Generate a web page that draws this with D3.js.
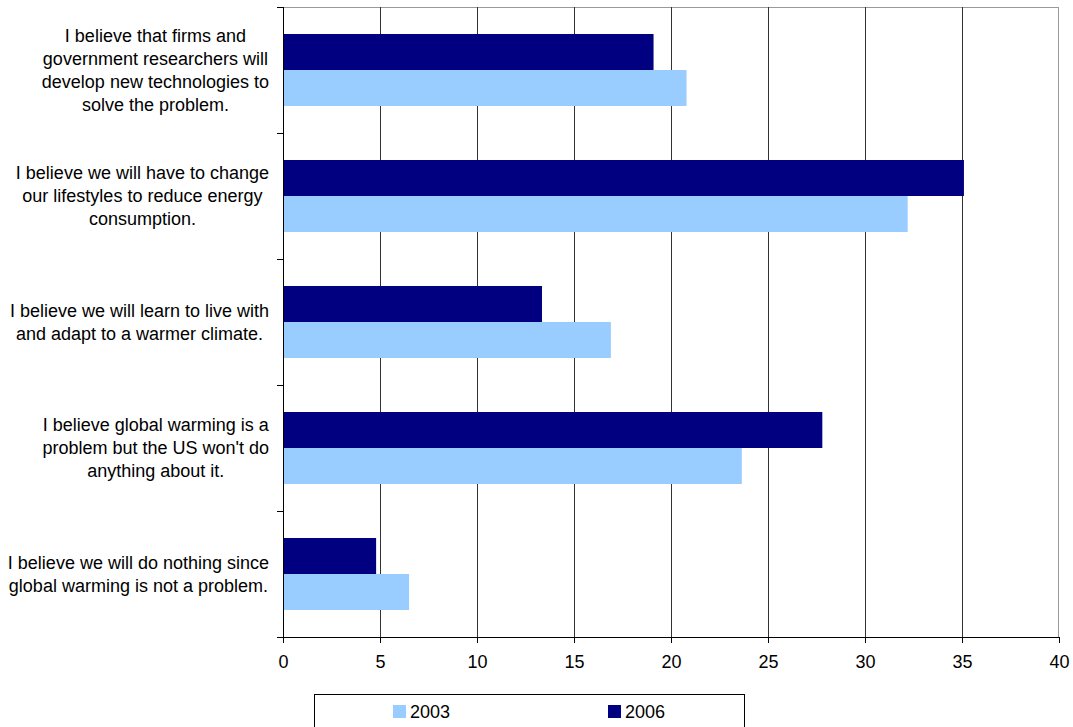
<!DOCTYPE html>
<html>
<head>
<meta charset="utf-8">
<script src="https://cdn.jsdelivr.net/npm/d3@7"></script>
<style>
  body { margin: 0; background: #fff; }
  svg { display: block; font-family: "Liberation Sans", Arial, sans-serif; }
</style>
</head>
<body>
<div id="chart"></div>
<script>
const categories = [
  ["I believe that firms and", "government researchers will", "develop new technologies to", "solve the problem."],
  ["I believe we will have to change", "our lifestyles to reduce energy", "consumption."],
  ["I believe we will learn to live with", "and adapt to a warmer climate."],
  ["I believe global warming is a", "problem but the US won't do", "anything about it."],
  ["I believe we will do nothing since", "global warming is not a problem."]
];
const series = ["2006", "2003"];
const values2006 = [19.1, 35.1, 13.35, 27.8, 4.8];
const values2003 = [20.8, 32.2, 16.9, 23.65, 6.5];
const xTicks = [0, 5, 10, 15, 20, 25, 30, 35, 40];
const colors = { "2003": "#99ccff", "2006": "#000080" };

const width = 1073, height = 727;
const plotLeft = 283, plotRight = 1059, plotTop = 7, plotBottom = 637;
const fontSize = "18px";

const svg = d3.select("#chart").append("svg")
  .attr("width", width)
  .attr("height", height);

const x = d3.scaleLinear().domain([0, 40]).range([plotLeft, plotRight]);
const y = d3.scaleBand().domain(d3.range(categories.length)).range([plotTop, plotBottom]);
// two bars of 36px in a 126px band
const inner = d3.scaleBand().domain(series).range([0, y.bandwidth()]).paddingOuter(27 / 36).paddingInner(0);

// plot frame (top / right in gray)
svg.append("line").attr("x1", plotLeft).attr("x2", plotRight).attr("y1", plotTop + 0.5).attr("y2", plotTop + 0.5)
  .attr("stroke", "#999");
svg.append("line").attr("x1", plotRight - 0.5).attr("x2", plotRight - 0.5).attr("y1", plotTop).attr("y2", plotBottom)
  .attr("stroke", "#999");

// vertical gridlines
svg.selectAll(".grid")
  .data(xTicks.slice(1, -1))
  .enter()
  .append("line")
  .attr("x1", d => Math.round(x(d)) + 0.5)
  .attr("x2", d => Math.round(x(d)) + 0.5)
  .attr("y1", plotTop)
  .attr("y2", plotBottom)
  .attr("stroke", "#333")
  .attr("stroke-width", 1);

// bars
const rows = categories.map((c, i) => ({ i, "2006": values2006[i], "2003": values2003[i] }));
const g = svg.selectAll(".cat")
  .data(rows)
  .enter()
  .append("g")
  .attr("transform", d => `translate(0,${y(d.i)})`);

g.selectAll("rect")
  .data(d => series.map(s => ({ s, v: d[s] })))
  .enter()
  .append("rect")
  .attr("x", x(0))
  .attr("y", d => inner(d.s))
  .attr("width", d => x(d.v) - x(0))
  .attr("height", inner.bandwidth())
  .attr("fill", d => colors[d.s]);

// x axis
const xAxis = svg.append("g")
  .attr("transform", `translate(0,${plotBottom})`)
  .call(d3.axisBottom(x).tickValues(xTicks).tickSize(6).tickPadding(12));
xAxis.select(".domain").attr("stroke", "#000").attr("d", `M${plotLeft - 6},0.5H${plotRight}`);
xAxis.selectAll("text").style("font-size", fontSize).attr("fill", "#000")
  .style("font-family", "'Liberation Sans', Arial, sans-serif");

// y axis line and ticks at category boundaries
svg.append("line").attr("x1", plotLeft + 0.5).attr("x2", plotLeft + 0.5).attr("y1", plotTop).attr("y2", plotBottom)
  .attr("stroke", "#000");
svg.selectAll(".ytick")
  .data(d3.range(categories.length + 1))
  .enter()
  .append("line")
  .attr("x1", plotLeft - 6)
  .attr("x2", plotLeft)
  .attr("y1", d => Math.round(plotTop + d * y.step()) + 0.5)
  .attr("y2", d => Math.round(plotTop + d * y.step()) + 0.5)
  .attr("stroke", "#000");

// category labels, centered block, longest line ends near x=268
const lineH = 23;
categories.forEach((lines, i) => {
  const cy = y(i) + y.bandwidth() / 2;
  const t = svg.append("text")
    .style("font-size", fontSize)
    .attr("fill", "#000")
    .attr("text-anchor", "middle");
  lines.forEach((ln, k) => {
    t.append("tspan")
      .attr("y", cy + (k - (lines.length - 1) / 2) * lineH)
      .attr("dy", "0.35em")
      .text(ln);
  });
  let maxW = 0;
  t.selectAll("tspan").each(function () {
    maxW = Math.max(maxW, this.getComputedTextLength());
  });
  t.selectAll("tspan").attr("x", 269 - maxW / 2);
});

// legend
const legend = svg.append("g");
legend.append("rect")
  .attr("x", 314.5).attr("y", 694.5)
  .attr("width", 430).attr("height", 40)
  .attr("fill", "#fff").attr("stroke", "#000");
const legendItems = [{ s: "2003", x: 393 }, { s: "2006", x: 608 }];
legendItems.forEach(d => {
  legend.append("rect")
    .attr("x", d.x).attr("y", 705)
    .attr("width", 13).attr("height", 13)
    .attr("fill", colors[d.s]);
  legend.append("text")
    .attr("x", d.x + 17).attr("y", 711.5)
    .attr("dy", "0.35em")
    .style("font-size", fontSize)
    .text(d.s);
});
</script>
</body>
</html>
